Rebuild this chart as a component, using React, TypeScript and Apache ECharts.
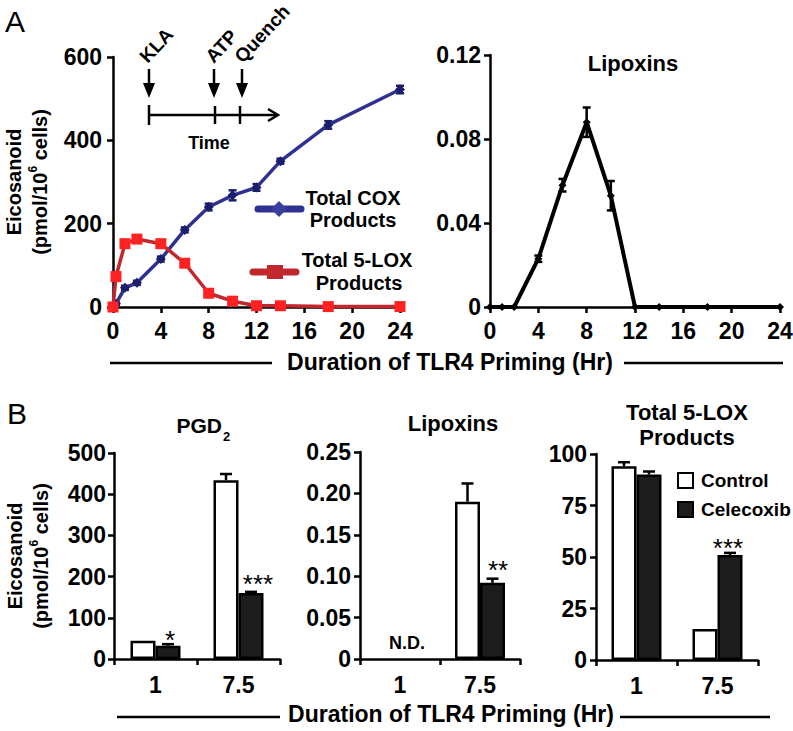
import React, { useEffect, useRef } from 'react';
import * as echarts from 'echarts';

// ---------- Panel A data ----------
const timeHr = [0, 0.25, 1, 2, 4, 6, 8, 10, 12, 14, 18, 24];
const coxMean = [0, 8, 46, 58, 115, 185, 240, 268, 287, 350, 437, 522];
const coxErr = [0, 3, 5, 5, 6, 6, 8, 12, 8, 6, 9, 9];
const loxMean = [0, 73, 152, 163, 152, 105, 33, 14, 3, 3, 1, 1];
const loxErr = [0, 9, 8, 6, 6, 5, 4, 3, 2, 2, 0, 0];
const lipoxTime = [0, 1, 2, 4, 6, 8, 10, 12, 14, 18, 24];
const lipoxMean = [0, 0, 0, 0.023, 0.058, 0.088, 0.053, 0, 0, 0, 0];
const lipoxErr = [0, 0, 0, 0.0015, 0.003, 0.007, 0.007, 0, 0, 0, 0];

// ---------- Panel B data ----------
const primingHr = ['1', '7.5'];
const pgd2Control = [44, 434];
const pgd2ControlErr = [0, 15];
const pgd2Celecoxib = [32, 160];
const pgd2CelecoxibErr = [4, 3];
const lipoxControl = [null, 0.19];
const lipoxControlErr = [0, 0.022];
const lipoxCelecoxib = [null, 0.092];
const lipoxCelecoxibErr = [0, 0.005];
const loxControl = [94, 15];
const loxControlErr = [2, 0];
const loxCelecoxib = [90, 51];
const loxCelecoxibErr = [1.5, 1];

const FONT = '"Liberation Sans", Arial, Helvetica, sans-serif';
const BAR_W = 25;

function lineErr(color: string, width: number, cap: number) {
  return (params: any, api: any) => {
    const x = api.value(0);
    const lo = api.value(1);
    const hi = api.value(2);
    if (!(hi - lo > 0)) return null;
    const p1 = api.coord([x, lo]);
    const p2 = api.coord([x, hi]);
    const st = { stroke: color, lineWidth: width };
    return {
      type: 'group',
      children: [
        { type: 'line', shape: { x1: p1[0], y1: p1[1], x2: p2[0], y2: p2[1] }, style: st },
        { type: 'line', shape: { x1: p1[0] - cap, y1: p1[1], x2: p1[0] + cap, y2: p1[1] }, style: st },
        { type: 'line', shape: { x1: p2[0] - cap, y1: p2[1], x2: p2[0] + cap, y2: p2[1] }, style: st },
      ],
    };
  };
}

function barErr(side: number) {
  return (params: any, api: any) => {
    const c = api.value(0);
    const v = api.value(1);
    const hi = api.value(2);
    if (isNaN(v) || !(hi > v)) return null;
    const p1 = api.coord([c, v]);
    const p2 = api.coord([c, hi]);
    const x = p1[0] + side * BAR_W / 2;
    const st = { stroke: '#000', lineWidth: 2.5 };
    return {
      type: 'group',
      children: [
        { type: 'line', shape: { x1: x, y1: p1[1], x2: x, y2: p2[1] }, style: st },
        { type: 'line', shape: { x1: x - 6, y1: p2[1], x2: x + 6, y2: p2[1] }, style: st },
      ],
    };
  };
}

const errData = (xs: any[], m: any[], e: any[]) =>
  xs.map((x, i) => [x, m[i] == null ? NaN : m[i], m[i] == null ? NaN : m[i] + e[i]]);
const errDataSym = (xs: number[], m: number[], e: number[]) =>
  xs.map((x, i) => [x, m[i] - e[i], m[i] + e[i]]);

const axisLine = { show: true, onZero: false, lineStyle: { color: '#000', width: 2.5 } };
const axisTick = { show: true, length: 6, lineStyle: { color: '#000', width: 2.5 } };
const labelStyle = { color: '#000', fontSize: 23, fontWeight: 'bold', fontFamily: FONT };

const yName = '{t|Eicosanoid}\n{t|(pmol/10}{s|6}{t| cells)}';
const yNameStyle = {
  rich: {
    t: { fontSize: 20, fontWeight: 'bold', fontFamily: FONT, color: '#000', lineHeight: 26 },
    s: { fontSize: 12, fontWeight: 'bold', fontFamily: FONT, color: '#000', lineHeight: 13, verticalAlign: 'top' },
  },
};

const dec2 = (v: number) => (v === 0 ? '0' : v.toFixed(2));

function txt(text: string, x: number, y: number, size: number, weight = 'bold', extra: any = {}) {
  const { align, va, ...rest } = extra;
  return {
    type: 'text',
    x,
    y,
    silent: true,
    ...rest,
    style: {
      text,
      fontSize: size,
      fontWeight: weight,
      fontFamily: FONT,
      fill: '#000',
      align: align || 'center',
      textAlign: align || 'center',
      verticalAlign: va || 'middle',
      textVerticalAlign: va || 'middle',
    },
  };
}
function ln(x1: number, y1: number, x2: number, y2: number, w = 2.5, color = '#000', cap = 'butt') {
  return { type: 'line', silent: true, shape: { x1, y1, x2, y2 }, style: { stroke: color, lineWidth: w, lineCap: cap } };
}
function downArrow(x: number) {
  return [
    ln(x, 69, x, 86, 2.5),
    { type: 'polygon', silent: true, shape: { points: [[x - 6, 83], [x + 6, 83], [x, 98]] }, style: { fill: '#000' } },
  ];
}

export default function App() {
  const ref = useRef<HTMLDivElement>(null);
  useEffect(() => {
    if (!ref.current) return;
    const chart = echarts.init(ref.current, null, { renderer: 'svg' });
    const rot = (47 * Math.PI) / 180;
    const option: any = {
      animation: false,
      backgroundColor: '#fff',
      textStyle: { fontFamily: FONT },
      grid: [
        { left: 113, top: 57, width: 287, height: 250, outerBoundsMode: 'none' },
        { left: 490, top: 55, width: 290, height: 252, outerBoundsMode: 'none' },
        { left: 114, top: 453, width: 166, height: 206, outerBoundsMode: 'none' },
        { left: 360, top: 452, width: 160, height: 207, outerBoundsMode: 'none' },
        { left: 596, top: 454, width: 162, height: 206, outerBoundsMode: 'none' },
      ],
      xAxis: [
        { gridIndex: 0, type: 'value', min: 0, max: 24, interval: 4, axisLine, axisTick, splitLine: { show: false }, axisLabel: { ...labelStyle, margin: 12 } },
        { gridIndex: 1, type: 'value', min: 0, max: 24, interval: 4, axisLine, axisTick, splitLine: { show: false }, axisLabel: { ...labelStyle, margin: 12 } },
        { gridIndex: 2, type: 'category', data: primingHr, axisLine, axisTick, axisLabel: { ...labelStyle, margin: 14 } },
        { gridIndex: 3, type: 'category', data: primingHr, axisLine, axisTick, axisLabel: { ...labelStyle, margin: 14 } },
        { gridIndex: 4, type: 'category', data: primingHr, axisLine, axisTick, axisLabel: { ...labelStyle, margin: 14 } },
      ],
      yAxis: [
        { gridIndex: 0, type: 'value', min: 0, max: 600, interval: 200, axisLine, axisTick, splitLine: { show: false }, axisLabel: { ...labelStyle, margin: 11 },
          name: yName, nameLocation: 'middle', nameRotate: 90, nameGap: 60, nameTextStyle: yNameStyle },
        { gridIndex: 1, type: 'value', min: 0, max: 0.12, interval: 0.04, axisLine, axisTick, splitLine: { show: false }, axisLabel: { ...labelStyle, margin: 9, formatter: dec2 } },
        { gridIndex: 2, type: 'value', min: 0, max: 500, interval: 100, axisLine, axisTick, splitLine: { show: false }, axisLabel: { ...labelStyle, margin: 8 },
          name: yName, nameLocation: 'middle', nameRotate: 90, nameGap: 60, nameTextStyle: yNameStyle },
        { gridIndex: 3, type: 'value', min: 0, max: 0.25, interval: 0.05, axisLine, axisTick, splitLine: { show: false }, axisLabel: { ...labelStyle, margin: 9, formatter: dec2 } },
        { gridIndex: 4, type: 'value', min: 0, max: 100, interval: 25, axisLine, axisTick, splitLine: { show: false }, axisLabel: { ...labelStyle, margin: 9 } },
      ],
      legend: {
        data: ['Control', 'Celecoxib'],
        orient: 'vertical',
        left: 672,
        top: 466,
        itemWidth: 15,
        itemHeight: 15,
        itemGap: 10,
        icon: 'rect',
        selectedMode: false,
        textStyle: { fontSize: 19, fontWeight: 'bold', color: '#000', fontFamily: FONT, padding: [0, 0, 0, 3] },
      },
      series: [
        // Panel A left
        { type: 'custom', name: 'coxErr', xAxisIndex: 0, yAxisIndex: 0, renderItem: lineErr('#1b1f6b', 2.5, 4), data: errDataSym(timeHr, coxMean, coxErr), clip: false, z: 3 },
        { type: 'line', name: 'Total COX Products', xAxisIndex: 0, yAxisIndex: 0, data: timeHr.map((t, i) => [t, coxMean[i]]), clip: false,
          lineStyle: { color: '#2e3192', width: 3.5 }, symbol: 'diamond', symbolSize: 10, itemStyle: { color: '#1b1f6b' }, z: 3 },
        { type: 'custom', name: 'loxErr', xAxisIndex: 0, yAxisIndex: 0, renderItem: lineErr('#c1272d', 2.5, 4), data: errDataSym(timeHr, loxMean, loxErr), clip: false, z: 4 },
        { type: 'line', name: 'Total 5-LOX Products', xAxisIndex: 0, yAxisIndex: 0, data: timeHr.map((t, i) => [t, loxMean[i]]), clip: false,
          lineStyle: { color: '#c1272d', width: 3.5 }, symbol: 'rect', symbolSize: 11, itemStyle: { color: '#ff2222' }, z: 4 },
        // Panel A right
        { type: 'custom', name: 'lipoxErr', xAxisIndex: 1, yAxisIndex: 1, renderItem: lineErr('#000', 2.5, 4), data: errDataSym(lipoxTime, lipoxMean, lipoxErr), clip: false, z: 3 },
        { type: 'line', name: 'Lipoxins', xAxisIndex: 1, yAxisIndex: 1, data: lipoxTime.map((t, i) => [t, lipoxMean[i]]), clip: false,
          lineStyle: { color: '#000', width: 4 }, symbol: 'diamond', symbolSize: 8, itemStyle: { color: '#000' }, z: 3 },
        // Panel B PGD2
        { type: 'bar', name: 'Control', xAxisIndex: 2, yAxisIndex: 2, data: pgd2Control, barWidth: BAR_W, barGap: '0%',
          itemStyle: { color: '#fff', borderColor: '#000', borderWidth: 2.5 } },
        { type: 'bar', name: 'Celecoxib', xAxisIndex: 2, yAxisIndex: 2, data: pgd2Celecoxib, barWidth: BAR_W, barGap: '0%',
          itemStyle: { color: '#1c1c1c', borderColor: '#000', borderWidth: 2.5 } },
        { type: 'custom', name: 'e1', xAxisIndex: 2, yAxisIndex: 2, renderItem: barErr(-1), data: errData([0, 1], pgd2Control, pgd2ControlErr), z: 5 },
        { type: 'custom', name: 'e2', xAxisIndex: 2, yAxisIndex: 2, renderItem: barErr(1), data: errData([0, 1], pgd2Celecoxib, pgd2CelecoxibErr), z: 5 },
        // Panel B Lipoxins
        { type: 'bar', name: 'Control', xAxisIndex: 3, yAxisIndex: 3, data: lipoxControl, barWidth: BAR_W, barGap: '0%',
          itemStyle: { color: '#fff', borderColor: '#000', borderWidth: 2.5 } },
        { type: 'bar', name: 'Celecoxib', xAxisIndex: 3, yAxisIndex: 3, data: lipoxCelecoxib, barWidth: BAR_W, barGap: '0%',
          itemStyle: { color: '#1c1c1c', borderColor: '#000', borderWidth: 2.5 } },
        { type: 'custom', name: 'e3', xAxisIndex: 3, yAxisIndex: 3, renderItem: barErr(-1), data: errData([0, 1], lipoxControl, lipoxControlErr), z: 5 },
        { type: 'custom', name: 'e4', xAxisIndex: 3, yAxisIndex: 3, renderItem: barErr(1), data: errData([0, 1], lipoxCelecoxib, lipoxCelecoxibErr), z: 5 },
        // Panel B Total 5-LOX
        { type: 'bar', name: 'Control', xAxisIndex: 4, yAxisIndex: 4, data: loxControl, barWidth: BAR_W, barGap: '0%',
          itemStyle: { color: '#fff', borderColor: '#000', borderWidth: 2.5 } },
        { type: 'bar', name: 'Celecoxib', xAxisIndex: 4, yAxisIndex: 4, data: loxCelecoxib, barWidth: BAR_W, barGap: '0%',
          itemStyle: { color: '#1c1c1c', borderColor: '#000', borderWidth: 2.5 } },
        { type: 'custom', name: 'e5', xAxisIndex: 4, yAxisIndex: 4, renderItem: barErr(-1), data: errData([0, 1], loxControl, loxControlErr), z: 5 },
        { type: 'custom', name: 'e6', xAxisIndex: 4, yAxisIndex: 4, renderItem: barErr(1), data: errData([0, 1], loxCelecoxib, loxCelecoxibErr), z: 5 },
      ],
      graphic: [
        // panel letters
        txt('A', 15, 21, 30, 'normal'),
        txt('B', 17, 413, 30, 'normal'),
        // timeline inset
        ...downArrow(149),
        ...downArrow(214),
        ...downArrow(242),
        ln(149, 115, 277, 115, 2.5),
        ln(149, 105, 149, 125, 2.5),
        ln(215, 106, 215, 124, 2.5),
        ln(240, 106, 240, 124, 2.5),
        { type: 'polyline', silent: true, shape: { points: [[268, 109], [278, 115], [268, 121]] }, style: { stroke: '#000', lineWidth: 2.5, fill: null } },
        txt('KLA', 150, 66, 19, 'bold', { rotation: rot, align: 'left', va: 'bottom' }),
        txt('ATP', 216, 66, 19, 'bold', { rotation: rot, align: 'left', va: 'bottom' }),
        txt('Quench', 245, 66, 19, 'bold', { rotation: rot, align: 'left', va: 'bottom' }),
        txt('Time', 209, 143, 18),
        // panel A legend
        ln(258, 209, 301, 209, 7, '#2e3192', 'round'),
        { type: 'polygon', silent: true, shape: { points: [[279, 201], [287, 209], [279, 217], [271, 209]] }, style: { fill: '#3a3f9e' } },
        txt('Total COX', 353, 198, 20),
        txt('Products', 353, 220, 20),
        ln(253, 272, 296, 272, 7, '#c1272d', 'round'),
        { type: 'rect', silent: true, shape: { x: 267, y: 265, width: 16, height: 14 }, style: { fill: '#c1272d' } },
        txt('Total 5-LOX', 357, 260, 20),
        txt('Products', 359, 283, 20),
        // titles
        txt('Lipoxins', 633, 63, 22),
        txt('PGD', 222, 425, 21, 'bold', { align: 'right' }),
        txt('2', 223, 436, 13, 'bold', { align: 'left' }),
        txt('Lipoxins', 453, 423, 22),
        txt('Total 5-LOX', 687, 412, 22),
        txt('Products', 687, 437, 22),
        // annotations
        txt('N.D.', 407, 643, 18),
        txt('*', 170, 640, 26, 'normal'),
        txt('***', 258, 584, 26, 'normal'),
        txt('**', 498, 570, 26, 'normal'),
        txt('***', 728, 548, 26, 'normal'),
        // shared x titles
        ln(110, 363, 272, 363, 2.5),
        txt('Duration of TLR4 Priming (Hr)', 450, 362, 23),
        ln(624, 363, 783, 363, 2.5),
        ln(117, 717, 280, 717, 2.5),
        txt('Duration of TLR4 Priming (Hr)', 451, 714, 23),
        ln(620, 717, 770, 717, 2.5),
      ],
    };
    chart.setOption(option);
    return () => chart.dispose();
  }, []);
  return (
    <div
      ref={ref}
      style={{ position: 'absolute', left: 0, top: 0, width: 793, height: 731, background: '#fff' }}
    />
  );
}
